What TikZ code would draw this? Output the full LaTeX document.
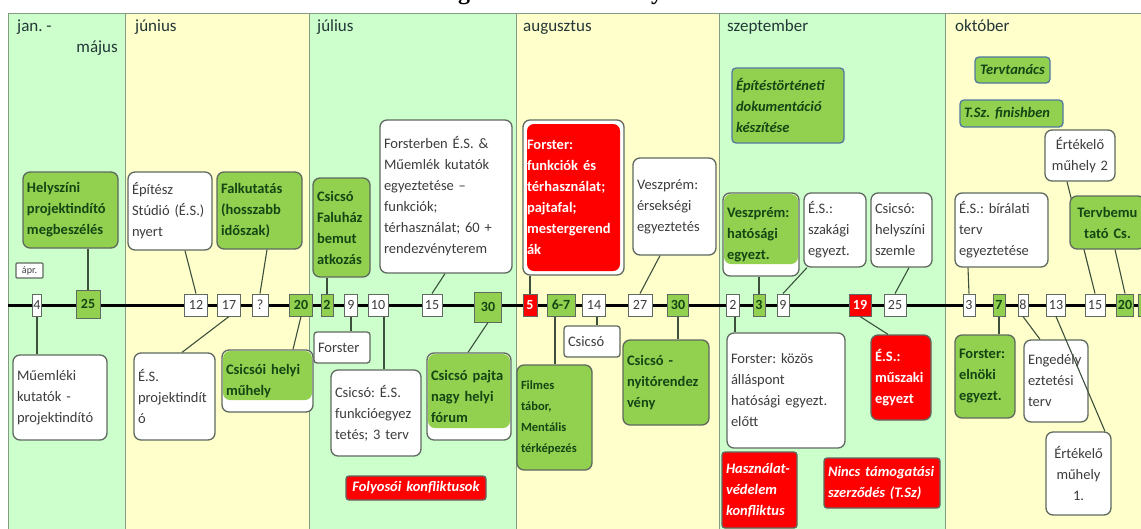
\documentclass[tikz,border=0pt]{standalone}
\usepackage{fontspec}
\setmainfont{Carlito}
\newfontfamily\mytitlefont{Liberation Serif}
\frenchspacing
\definecolor{colgreen}{RGB}{204,255,204}
\definecolor{colyellow}{RGB}{255,255,204}
\definecolor{colborder}{RGB}{130,155,130}
\definecolor{gfill}{RGB}{146,208,80}
\definecolor{rfill}{RGB}{255,0,0}
\definecolor{boxline}{RGB}{95,105,95}
\definecolor{gtxt}{RGB}{20,70,20}
\definecolor{wtxt}{RGB}{60,60,60}
\definecolor{montxt}{RGB}{35,55,55}
\definecolor{connc}{RGB}{60,80,60}
\definecolor{blueline}{RGB}{80,120,160}
\newcommand{\myfs}{\fontsize{14.5pt}{21pt}\selectfont}
\newcommand{\mysmfs}{\fontsize{12.5pt}{21pt}\selectfont}
\newcommand{\mytinyfs}{\fontsize{10pt}{11pt}\selectfont}
\newcommand{\mydfs}{\fontsize{14pt}{14pt}\selectfont}
\newcommand{\mymfs}{\fontsize{17pt}{20pt}\selectfont}
\begin{document}
\frenchspacing
\begin{tikzpicture}[x=1pt,y=-1pt,
  sz/.code 2 args={\pgfmathsetmacro\mytw{#1-8}\edef\mytmp{\noexpand\pgfkeysalso{minimum width=#1pt,minimum height=#2pt,text width=\mytw pt}}\mytmp},
  box/.style={draw=boxline, line width=1.3pt, rounded corners=7pt, inner xsep=4pt, inner ysep=2pt, font=\myfs, align=left, text=wtxt},
  wbox/.style={box, fill=white},
  gbox/.style={box, fill=gfill, text=gtxt, font=\myfs\bfseries},
  gpart/.style={box, fill=white, text=gtxt, font=\myfs\bfseries,
    path picture={\fill[gfill] ([shift={(1pt,-1pt)}]path picture bounding box.north west) rectangle ([shift={(-1pt,#1)}]path picture bounding box.south east);}},
  rinset/.style={box, fill=white, text=white, font=\myfs\bfseries,
    path picture={\fill[rfill] ([shift={(4pt,-4pt)}]path picture bounding box.north west) rectangle ([shift={(-4pt,4pt)}]path picture bounding box.south east);}},
  rbox/.style={box, fill=rfill, text=white, font=\myfs\bfseries},
  ritalic/.style={box, fill=rfill, text=white, rounded corners=3pt, font=\myfs\bfseries\itshape},
  gital/.style={box, fill=gfill, draw=blueline, rounded corners=4pt, text=gtxt, font=\myfs\bfseries\itshape},
  date/.style={draw=boxline, line width=1pt, fill=white, font=\mydfs, inner xsep=1pt, inner ysep=1pt, minimum height=22pt, text=wtxt},
  dg/.style={date, fill=gfill, text=gtxt, font=\mydfs\bfseries},
  dr/.style={date, fill=rfill, text=white, font=\mydfs\bfseries},
  conn/.style={draw=connc, line width=1.1pt},
  month/.style={font=\mymfs, text=montxt, inner sep=0pt},
  colbox/.style={draw=colborder, line width=1pt},
  titlefrag/.style={font=\mytitlefont\bfseries\fontsize{24pt}{24pt}\selectfont, inner sep=0pt}
]
\useasboundingbox (0,0) rectangle (1141,528);
\fill[white] (0,0) rectangle (1141,528);
% title fragments (cut off at top edge of the picture)
\node[titlefrag, anchor=base] (tg) at (464,-1) {g};
\node[titlefrag, anchor=base] (ty) at (657,-1) {y};
% month columns
\draw[colbox, fill=colgreen] (8,13) rectangle (125,545);
\draw[colbox, fill=colyellow] (125,13) rectangle (309,545);
\draw[colbox, fill=colgreen] (309,13) rectangle (516,545);
\draw[colbox, fill=colyellow] (516,13) rectangle (719,545);
\draw[colbox, fill=colgreen] (719,13) rectangle (945,545);
\draw[colbox, fill=colyellow] (945,13) rectangle (1160,545);
% month labels
\node[month, anchor=base west] (mjan) at (17,31) {jan. -};
\node[month, anchor=base east] (mmaj) at (118,52) {május};
\node[month, anchor=base west] (mjun) at (135,31) {június};
\node[month, anchor=base west] (mjul) at (317,31) {július};
\node[month, anchor=base west] (maug) at (523,31) {augusztus};
\node[month, anchor=base west] (mszep) at (727,31) {szeptember};
\node[month, anchor=base west] (mokt) at (955,31) {október};
% timeline
\coordinate (tl0) at (8,305);
\coordinate (tl1) at (1160,305);
\draw[line width=3pt, black] (tl0) -- (tl1);
% date boxes
\node[date, minimum width=9pt] (d4) at (37,305) {4};
\node[dg, minimum width=24pt, minimum height=28pt] (d25a) at (88,304) {25};
\node[date, minimum width=23pt] (d12) at (196,305) {12};
\node[date, minimum width=23pt] (d17) at (229,305) {17};
\node[date, minimum width=16pt] (dq) at (260,305) {?};
\node[dg, minimum width=23pt] (d20a) at (301,305) {20};
\node[dg, minimum width=12pt] (d2a) at (327,305) {2};
\node[date, minimum width=13pt] (d9a) at (351,305) {9};
\node[date, minimum width=20pt] (d10) at (378,305) {10};
\node[date, minimum width=20pt] (d15a) at (432,305) {15};
\node[dg, minimum width=27pt, minimum height=30pt] (d30a) at (488,307) {30};
\node[dr, minimum width=14pt] (d5) at (530,305) {5};
\node[dg, minimum width=28pt] (d67) at (561,305) {6-7};
\node[date, minimum width=23pt] (d14) at (594,305) {14};
\node[date, minimum width=24pt] (d27) at (640,305) {27};
\node[dg, minimum width=21pt] (d30b) at (678,305) {30};
\node[date, minimum width=13pt] (d2b) at (733,305) {2};
\node[dg, minimum width=12pt] (d3a) at (759,305) {3};
\node[date, minimum width=12pt] (d9b) at (783,305) {9};
\node[dr, minimum width=22pt] (d19) at (860,305) {19};
\node[date, minimum width=22pt] (d25b) at (895,305) {25};
\node[date, minimum width=12pt] (d3b) at (969,305) {3};
\node[dg, minimum width=12pt] (d7) at (999,305) {7};
\node[date, minimum width=10pt] (d8) at (1023,305) {8};
\node[date, minimum width=19pt] (d13) at (1056,305) {13};
\node[date, minimum width=20pt] (d15b) at (1095,305) {15};
\node[dg, minimum width=15pt] (d20b) at (1125,305) {20};
\node[dg, minimum width=12pt] (dend) at (1144,305) {};
% upper boxes
\node[gbox, sz={95}{76}] (helysz) at (70.5,210) {Helyszíni\\projektindító\\megbeszélés};
\node[wbox, rounded corners=1pt, font=\mytinyfs, inner sep=1pt, minimum width=27pt, minimum height=15pt, align=center] (apr) at (29.5,270.5) {ápr.};
\node[wbox, sz={84}{78}] (epitesz) at (170,211) {Építész\\Stúdió (É.S.)\\nyert};
\node[gbox, sz={85}{77}] (falku) at (259.5,210.5) {Falkutatás\\(hosszabb\\időszak)};
\node[gbox, sz={57}{99}] (faluhaz) at (341.5,227.5) {Csicsó\\Faluház\\bemut\\atkozás};
\node[wbox, sz={132}{153}] (forsterben) at (446,196.5) {Forsterben É.S. \&\\Műemlék kutatók\\egyeztetése –\\funkciók;\\térhasználat; 60 +\\rendezvényterem};
\node[rinset, sz={101}{155}] (forsterred) at (573.5,197.5) {Forster:\\funkciók és\\térhasználat;\\pajtafal;\\mestergerend\\ák};
\node[wbox, sz={83}{97}] (veszpr1) at (674.5,206.5) {Veszprém:\\érsekségi\\egyeztetés};
\node[gpart=12pt, sz={76}{83}] (veszpr2) at (761,234.5) {Veszprém:\\hatósági\\egyezt.};
\node[wbox, sz={62}{74}] (esszak) at (835,230) {É.S.:\\szakági\\egyezt.};
\node[wbox, sz={61}{74}] (csszemle) at (901.5,230) {Csicsó:\\helyszíni\\szemle};
\node[wbox, sz={93}{74}] (esbiral) at (1001.5,230) {É.S.: bírálati\\terv\\egyeztetése};
\node[wbox, sz={70}{51}, align=center] (ertek2) at (1080,155.5) {Értékelő\\műhely 2};
\node[gital, sz={75}{26}, align=center] (tervtan) at (1012.5,70) {Tervtanács};
\node[gital, sz={103}{27}] (tsz) at (1011.5,113.5) {T.Sz. finishben};
\node[gital, sz={112}{75}] (epittort) at (788,105.5) {Építéstörténeti\\dokumentáció\\készítése};
% lower boxes
\node[wbox, sz={94}{85}] (muemleki) at (60,397.5) {Műemléki\\kutatók -\\projektindító};
\node[wbox, sz={81}{87}] (esproj) at (174.5,396.5) {É.S.\\projektindít\\ó};
\node[gpart=12pt, sz={91}{62}] (helyimuh) at (267.5,381) {Csicsói helyi\\műhely};
\node[wbox, sz={56}{31}, rounded corners=3pt] (forstersm) at (342,347.5) {Forster};
\node[wbox, sz={90}{86}] (csfunk) at (376,413) {Csicsó: É.S.\\funkcióegyez\\tetés; 3 terv};
\node[gpart=12pt, sz={84}{87}] (pajta) at (469,396.5) {Csicsó pajta\\nagy helyi\\fórum};
\node[ritalic, sz={140}{24}, align=center] (folyosoi) at (416,488) {Folyosói konfliktusok};
\node[gbox, sz={75}{105}, font=\mysmfs\bfseries] (filmes) at (554.5,417.5) {Filmes\\tábor,\\Mentális\\térképezés};
\node[wbox, sz={56}{31}, rounded corners=3pt] (cssm) at (592,341.5) {Csicsó};
\node[gbox, sz={86}{85}] (nyito) at (666,382.5) {Csicsó -\\nyitórendez\\vény};
\node[wbox, sz={118}{115}] (forsterkozos) at (786,390.5) {Forster: közös\\álláspont\\hatósági egyezt.\\előtt};
\node[rbox, sz={60}{85}] (esmuszaki) at (901,377.5) {É.S.:\\műszaki\\egyezt};
\node[ritalic, sz={75}{76}] (hasznalat) at (759.5,490) {Használat-\\védelem\\konfliktus};
\node[ritalic, sz={116}{50}] (nincs) at (882,483) {Nincs támogatási\\szerződés (T.Sz)};
\node[gbox, sz={60}{83}] (elnoki) at (985,376.5) {Forster:\\elnöki\\egyezt.};
\node[wbox, sz={64}{82}] (engedely) at (1056,381) {Engedély\\eztetési\\terv};
\node[wbox, sz={65}{83}, align=center] (ertek1) at (1078.5,473.5) {Értékelő\\műhely\\1.};
% connectors
\draw[conn] ([xshift=17.5pt]helysz.south) -- (d25a.north);
\draw[conn] (d4.south) -- (d4.south |- muemleki.north);
\draw[conn] ([xshift=15pt]epitesz.south) -- (d12.north);
\draw[conn] ([xshift=7.5pt]falku.south) -- (dq.north);
\draw[conn] (d17.south) -- ([xshift=7.5pt]esproj.north);
\draw[conn] (d20a.south) -- ([xshift=25.5pt]helyimuh.north);
\draw[conn] (d2a.north) -- (d2a.north |- faluhaz.south);
\draw[conn] (d9a.south) -- (d9a.south |- forstersm.north);
\draw[conn] ([xshift=6pt]d10.south) -- ([xshift=6pt]d10.south |- csfunk.north);
\draw[conn] ([xshift=-1pt]forsterben.south) -- (d15a.north);
\draw[conn] (d30a.south) -- ([xshift=-1pt]pajta.north);
\draw[conn] ([xshift=-43.5pt]forsterred.south) -- (d5.north);
\draw[conn] ([xshift=-6pt]d67.south) -- ([xshift=-6pt]d67.south |- filmes.north);
\draw[conn] ([xshift=3pt]d14.south) -- ([xshift=3pt]d14.south |- cssm.north);
\draw[conn] ([xshift=-14.5pt]veszpr1.south) -- (d27.north);
\draw[conn] (d30b.south) -- (d30b.south |- nyito.north);
\draw[conn] ([xshift=2pt]d2b.south) -- ([xshift=2pt]d2b.south |- forsterkozos.north);
\draw[conn] (d3a.north) -- (d3a.north |- veszpr2.south);
\draw[conn] ([xshift=-28pt]esszak.south) -- (d9b.north);
\draw[conn] (d19.south) -- ([xshift=-13pt]esmuszaki.north);
\draw[conn] ([xshift=7.5pt]csszemle.south) -- (d25b.north);
\draw[conn] ([xshift=-33.5pt]esbiral.south) -- (d3b.north);
\draw[conn] (d7.south) -- (d7.south |- elnoki.north);
\draw[conn] (d8.south) -- ([xshift=-16pt]engedely.north);
\draw[conn] ([xshift=-13pt]ertek2.south) -- (d15b.north);
\node[gbox, sz={75}{53}, align=center] (tervbem) at (1107.5,222.5) {Tervbemu\\tató Cs.};
\draw[conn] ([xshift=7.5pt]tervbem.south) -- (d20b.north);
\draw[conn] (d13.south) -- ([xshift=26.5pt]ertek1.north);
\end{tikzpicture}
\end{document}
